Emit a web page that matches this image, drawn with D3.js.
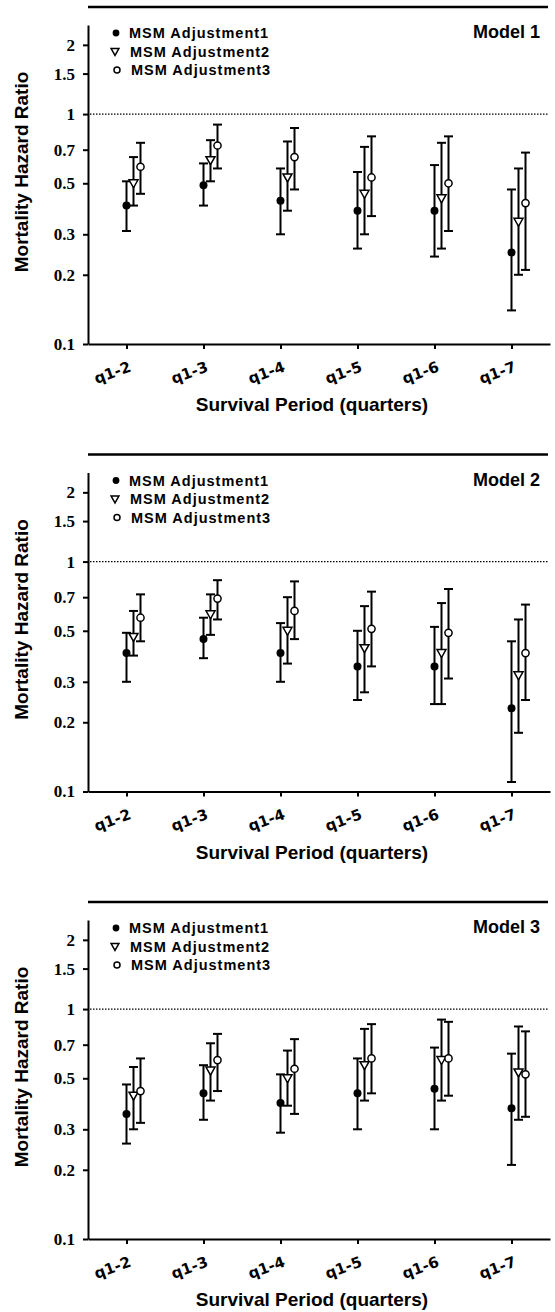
<!DOCTYPE html>
<html>
<head>
<meta charset="utf-8">
<script src="https://cdn.jsdelivr.net/npm/d3@7"></script>
<style>
  body { margin: 0; background: #fff; }
  svg { display: block; }
</style>
</head>
<body>
<svg class="chart"></svg>
<script>
// categories and tick labels
const periods = ['q1-2', 'q1-3', 'q1-4', 'q1-5', 'q1-6', 'q1-7'];
const yTicks = [0.1, 0.2, 0.3, 0.5, 0.7, 1, 1.5, 2];
const seriesNames = ['MSM Adjustment1', 'MSM Adjustment2', 'MSM Adjustment3'];
const modelNames = ['Model 1', 'Model 2', 'Model 3'];

// [hazard ratio, lower CI, upper CI] per period
const m1Adj1 = [[0.40, 0.31, 0.51], [0.49, 0.40, 0.61], [0.42, 0.30, 0.58], [0.38, 0.26, 0.56], [0.38, 0.24, 0.60], [0.25, 0.14, 0.47]];
const m1Adj2 = [[0.50, 0.40, 0.65], [0.63, 0.51, 0.77], [0.53, 0.38, 0.76], [0.45, 0.30, 0.72], [0.43, 0.26, 0.75], [0.34, 0.20, 0.58]];
const m1Adj3 = [[0.59, 0.45, 0.75], [0.73, 0.58, 0.90], [0.65, 0.47, 0.87], [0.53, 0.36, 0.80], [0.50, 0.31, 0.80], [0.41, 0.21, 0.68]];

const m2Adj1 = [[0.40, 0.30, 0.49], [0.46, 0.38, 0.57], [0.40, 0.30, 0.54], [0.35, 0.25, 0.50], [0.35, 0.24, 0.52], [0.23, 0.11, 0.45]];
const m2Adj2 = [[0.47, 0.39, 0.61], [0.59, 0.48, 0.72], [0.50, 0.36, 0.70], [0.42, 0.27, 0.64], [0.40, 0.24, 0.66], [0.32, 0.18, 0.56]];
const m2Adj3 = [[0.57, 0.45, 0.72], [0.69, 0.56, 0.83], [0.61, 0.46, 0.82], [0.51, 0.35, 0.74], [0.49, 0.31, 0.76], [0.40, 0.25, 0.65]];

const m3Adj1 = [[0.35, 0.26, 0.47], [0.43, 0.33, 0.57], [0.39, 0.29, 0.52], [0.43, 0.30, 0.61], [0.45, 0.30, 0.68], [0.37, 0.21, 0.64]];
const m3Adj2 = [[0.42, 0.30, 0.56], [0.54, 0.40, 0.71], [0.50, 0.38, 0.66], [0.57, 0.40, 0.82], [0.60, 0.40, 0.90], [0.53, 0.33, 0.84]];
const m3Adj3 = [[0.44, 0.32, 0.61], [0.60, 0.44, 0.78], [0.55, 0.35, 0.74], [0.61, 0.43, 0.86], [0.61, 0.42, 0.88], [0.52, 0.34, 0.80]];

const models = [
  [m1Adj1, m1Adj2, m1Adj3],
  [m2Adj1, m2Adj2, m2Adj3],
  [m3Adj1, m3Adj2, m3Adj3]
];

const initChart = () => {
  const svgWidth = 555;
  const svgHeight = 1312;
  const panelStep = 447.5;
  const left = 88, right = 550, top = 25, bottom = 344;
  const seriesOffset = [0, 7, 14];
  const sansFont = '"Liberation Sans", Arial, sans-serif';

  var svg = d3.select('.chart')
      .attr('width', svgWidth)
      .attr('height', svgHeight);

  var xScale = d3.scalePoint()
      .domain(periods)
      .range([left, right])
      .padding(0.5);

  var yScale = d3.scaleLog()
      .domain([0.1, 2.44])
      .range([bottom, top]);

  // draws one marker shape for series index s
  const drawMarker = (g, s, cx, cy, r) => {
    if (s === 0) {
      g.append('circle')
        .attr('cx', cx).attr('cy', cy).attr('r', r)
        .attr('fill', '#000');
    } else if (s === 1) {
      g.append('path')
        .attr('d', 'M' + (cx - r - 0.5) + ',' + (cy - r + 0.5) + 'L' + (cx + r + 0.5) + ',' + (cy - r + 0.5) + 'L' + cx + ',' + (cy + r + 0.5) + 'Z')
        .attr('fill', '#fff')
        .attr('stroke', '#000')
        .attr('stroke-width', 1.5);
    } else {
      g.append('circle')
        .attr('cx', cx).attr('cy', cy).attr('r', r - 0.4)
        .attr('fill', '#fff')
        .attr('stroke', '#000')
        .attr('stroke-width', 1.5);
    }
  };

  const drawPanel = (idx) => {
    var g = svg.append('g')
        .attr('transform', 'translate(0,' + (idx * panelStep) + ')');

    // rule above the panel
    g.append('line')
      .attr('x1', left).attr('x2', 548)
      .attr('y1', 7).attr('y2', 7)
      .attr('stroke', '#000')
      .attr('stroke-width', 2.5);

    // reference line at HR = 1
    g.append('line')
      .attr('x1', left + 2).attr('x2', 548)
      .attr('y1', yScale(1)).attr('y2', yScale(1))
      .attr('stroke', '#000')
      .attr('stroke-width', 1.2)
      .attr('stroke-dasharray', '1.5,1.5');

    var yAxis = d3.axisLeft(yScale)
        .tickValues(yTicks)
        .tickFormat((d) => d)
        .tickSize(5)
        .tickSizeOuter(0);
    var yg = g.append('g')
        .attr('transform', 'translate(' + left + ',0)')
        .call(yAxis);
    yg.selectAll('text')
      .attr('x', -13)
      .attr('font-family', '"Liberation Serif", "Times New Roman", serif')
      .attr('font-weight', 'bold')
      .attr('font-size', 17);

    var xAxis = d3.axisBottom(xScale)
        .tickSize(5)
        .tickSizeOuter(0);
    var xg = g.append('g')
        .attr('transform', 'translate(0,' + bottom + ')')
        .call(xAxis);
    xg.selectAll('text')
      .attr('y', 0)
      .attr('dy', 0)
      .attr('text-anchor', 'end')
      .attr('transform', 'translate(5,27) rotate(-20)')
      .attr('font-family', '"DejaVu Sans", sans-serif')
      .attr('font-weight', 'bold')
      .attr('font-size', 15);

    g.selectAll('.domain, .tick line')
      .attr('stroke', '#000')
      .attr('stroke-width', 2);

    // error bars and points
    models[idx].forEach((series, s) => {
      series.forEach((d, i) => {
        var cx = xScale(periods[i]) + seriesOffset[s];
        var bar = g.append('g');
        bar.append('line')
          .attr('x1', cx).attr('x2', cx)
          .attr('y1', yScale(d[1])).attr('y2', yScale(d[2]))
          .attr('stroke', '#000').attr('stroke-width', 2);
        [d[1], d[2]].forEach((v) => {
          bar.append('line')
            .attr('x1', cx - 4.5).attr('x2', cx + 4.5)
            .attr('y1', yScale(v)).attr('y2', yScale(v))
            .attr('stroke', '#000').attr('stroke-width', 2);
        });
        drawMarker(bar, s, cx, yScale(d[0]), 4);
      });
    });

    // legend
    var legend = g.append('g');
    seriesNames.forEach((name, s) => {
      var ly = 33 + s * 18.5;
      drawMarker(legend, s, [116, 115, 117][s], ly, 3.4);
      legend.append('text')
        .attr('x', 129 + s)
        .attr('y', ly + 5)
        .attr('font-family', sansFont)
        .attr('font-weight', 'bold')
        .attr('font-size', 14.5)
        .attr('letter-spacing', 1)
        .text(name);
    });

    g.append('text')
      .attr('x', 540)
      .attr('y', 38)
      .attr('text-anchor', 'end')
      .attr('font-family', sansFont)
      .attr('font-weight', 'bold')
      .attr('font-size', 18)
      .text(modelNames[idx]);

    g.append('text')
      .attr('transform', 'translate(28,' + 172 + ') rotate(-90)')
      .attr('text-anchor', 'middle')
      .attr('font-family', sansFont)
      .attr('font-weight', 'bold')
      .attr('font-size', 19)
      .text('Mortality Hazard Ratio');

    g.append('text')
      .attr('x', 312)
      .attr('y', 411)
      .attr('text-anchor', 'middle')
      .attr('font-family', sansFont)
      .attr('font-weight', 'bold')
      .attr('font-size', 19)
      .text('Survival Period (quarters)');
  };

  models.forEach((m, idx) => drawPanel(idx));
};

document.addEventListener('DOMContentLoaded', initChart, false);
</script>
</body>
</html>
